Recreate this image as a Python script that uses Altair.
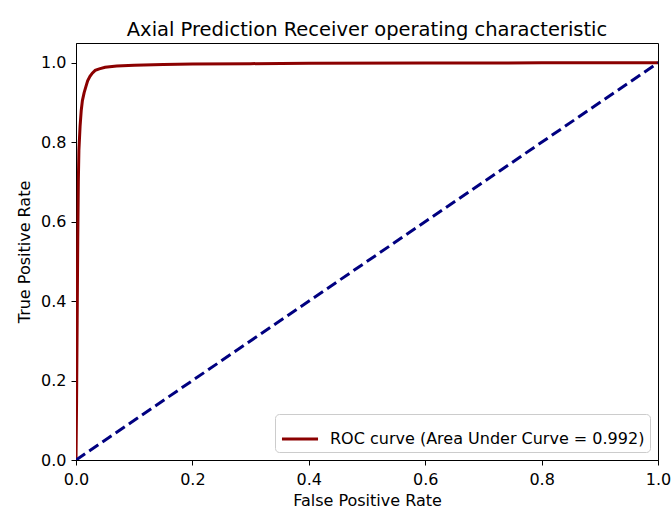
import altair as alt
import pandas as pd

# ROC curve values
fpr = [0, 0.001, 0.002, 0.003, 0.004, 0.005, 0.007, 0.009, 0.011, 0.014, 0.017,
       0.020, 0.024, 0.028, 0.033, 0.040, 0.050, 0.070, 0.100, 0.150, 0.200,
       0.300, 0.400, 0.600, 0.800, 1.0]
tpr = [0, 0.15, 0.35, 0.55, 0.70, 0.78, 0.84, 0.88, 0.905, 0.925, 0.94,
       0.955, 0.966, 0.974, 0.981, 0.985, 0.989, 0.992, 0.994, 0.996, 0.997,
       0.998, 0.999, 0.9995, 1.0, 1.0]
diag_x = [0, 1]
diag_y = [0, 1]
legend_label = "ROC curve (Area Under Curve = 0.992)"
ticks = [0, 0.2, 0.4, 0.6, 0.8, 1.0]

roc_df = pd.DataFrame({"fpr": fpr, "tpr": tpr, "series": legend_label})
diag_df = pd.DataFrame({"x": diag_x, "y": diag_y})

xscale = alt.Scale(domain=[0, 1], nice=False, zero=False)
yscale = alt.Scale(domain=[0, 1.05], nice=False, zero=False)

xaxis = alt.Axis(values=ticks, format=".1f", title="False Positive Rate", grid=False)
yaxis = alt.Axis(values=ticks, format=".1f", title="True Positive Rate", grid=False)

roc = alt.Chart(roc_df).mark_line(strokeWidth=3, clip=True).encode(
    x=alt.X("fpr:Q", scale=xscale, axis=xaxis),
    y=alt.Y("tpr:Q", scale=yscale, axis=yaxis),
    color=alt.Color("series:N",
                    scale=alt.Scale(domain=[legend_label], range=["#8b0000"]),
                    legend=alt.Legend(title=None, orient="bottom-right", offset=8,
                                      symbolType="stroke", symbolSize=1300,
                                      symbolStrokeWidth=3, labelFontSize=16,
                                      labelFont="DejaVu Sans", labelColor="black",
                                      labelLimit=0,
                                      fillColor="rgba(255,255,255,0.8)",
                                      strokeColor="#cccccc", cornerRadius=4,
                                      padding=5, labelOffset=10)),
)

diag = alt.Chart(diag_df).mark_line(strokeWidth=3, strokeDash=[11, 5], color="#000080", clip=True).encode(
    x=alt.X("x:Q", scale=xscale),
    y=alt.Y("y:Q", scale=yscale),
)

chart = alt.layer(roc, diag).properties(
    width=582,
    height=417,
    title=alt.TitleParams("Axial Prediction Receiver operating characteristic",
                          fontSize=19.5, font="DejaVu Sans", fontWeight="normal",
                          color="black", anchor="middle", offset=3),
    autosize=alt.AutoSizeParams(type="none"),
    padding={"left": 76, "top": 43, "right": 14, "bottom": 50},
).configure_view(
    stroke="black", strokeWidth=1
).configure_axis(
    domainColor="black", tickColor="black", tickSize=5, domainWidth=1,
    labelFont="DejaVu Sans", labelFontSize=16, labelColor="black", labelPadding=5,
    titleFont="DejaVu Sans", titleFontSize=16, titleFontWeight="normal",
    titleColor="black",
).configure_axisX(titlePadding=5, labelPadding=6, labelFlush=False).configure_axisY(titlePadding=8, labelFlush=False)

chart.save("out.html", embed_options={"renderer": "svg", "actions": False})
